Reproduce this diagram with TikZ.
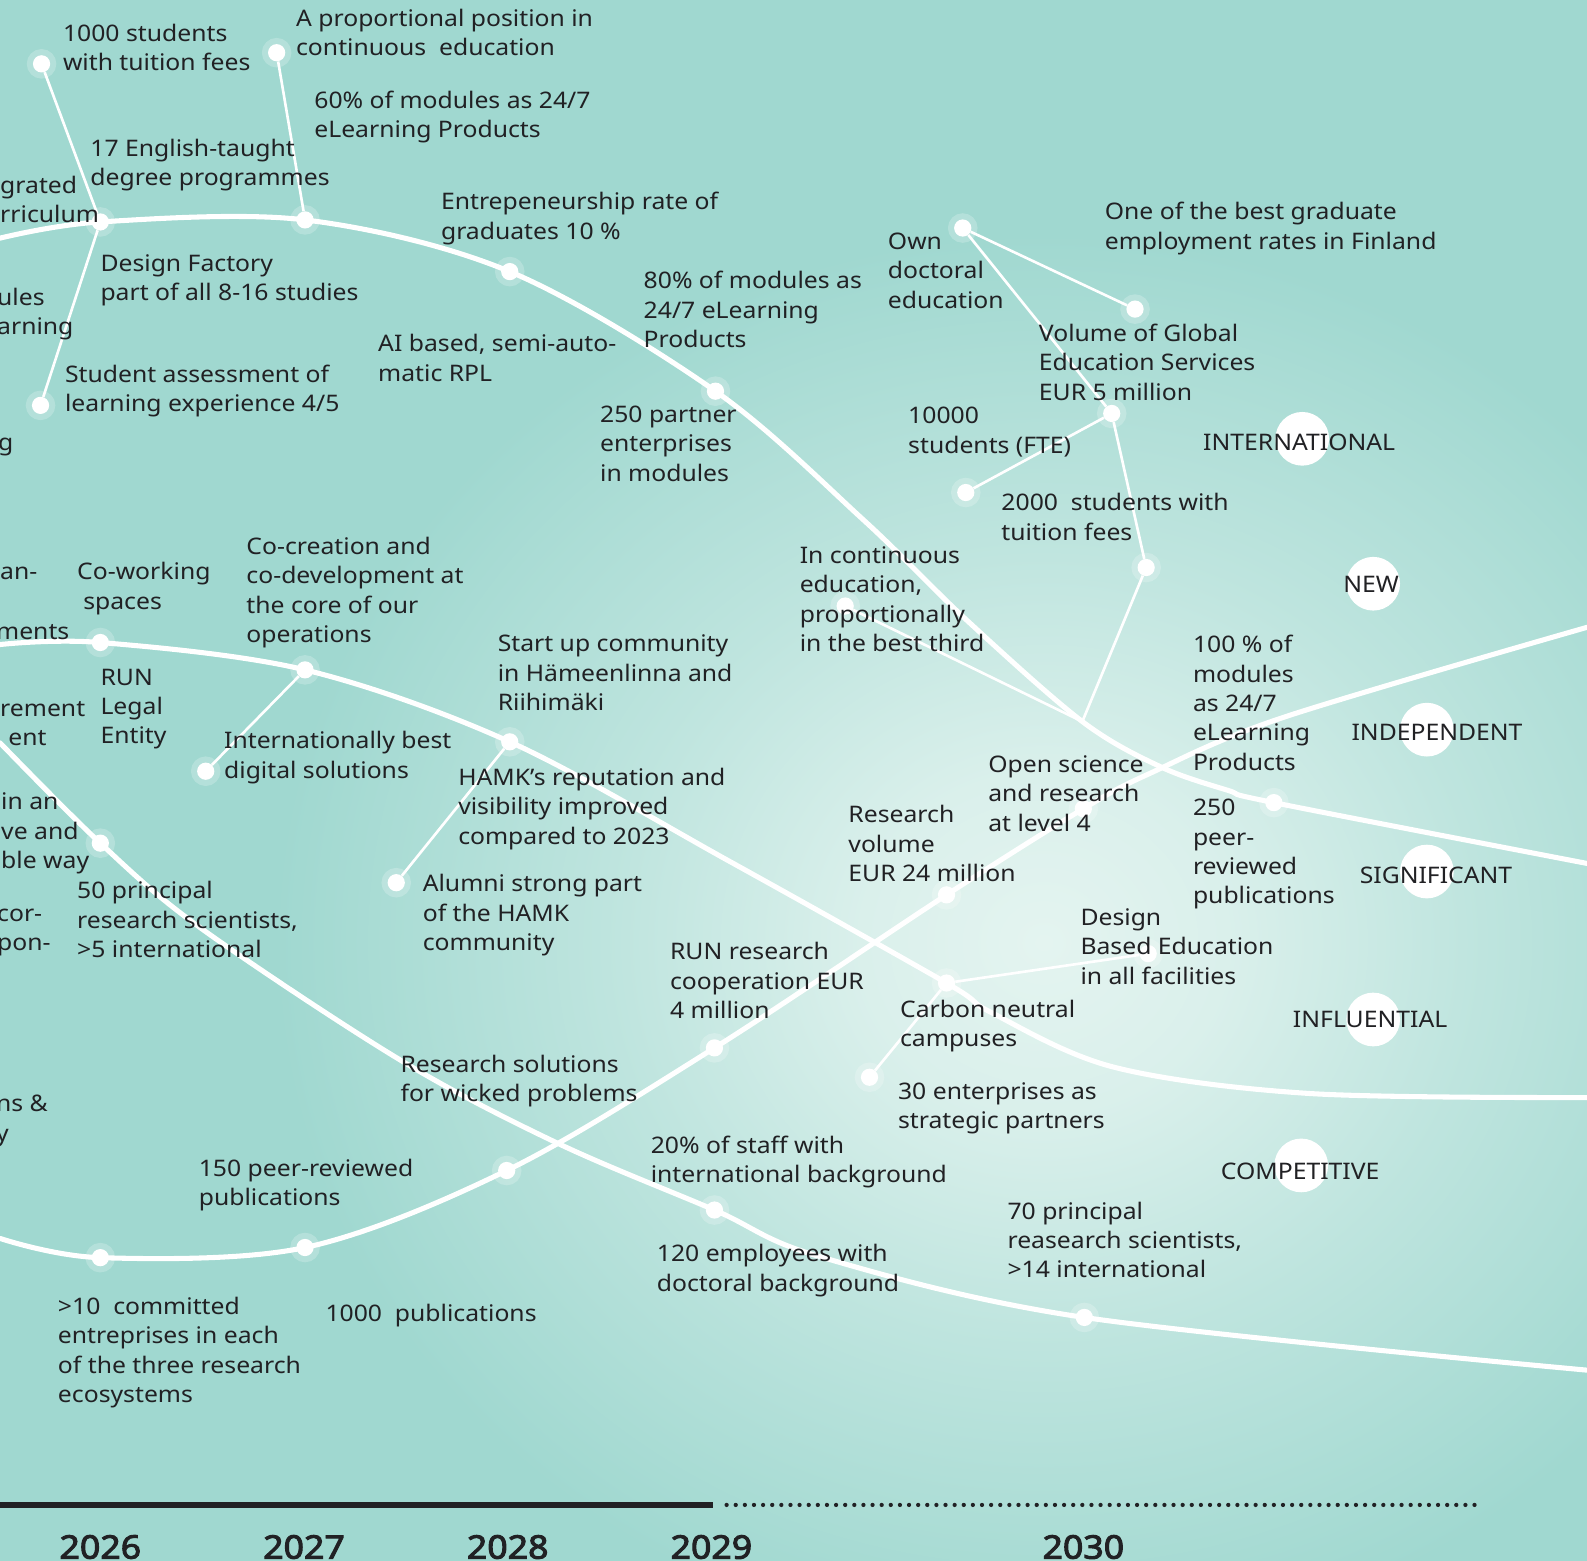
\documentclass[tikz,border=0pt]{standalone}
\usepackage{fontspec}
\setmainfont{Noto Sans}[FakeStretch=1.085]
\newfontfamily\yearfont{Noto Sans}[FakeBold=3, FakeStretch=1.1]
\definecolor{bgc}{RGB}{160,216,208}
\definecolor{glowc}{RGB}{228,244,240}
\definecolor{ink}{RGB}{33,33,36}
\pgfdeclareradialshading{glow}{\pgfpoint{0bp}{0bp}}{color(0bp)=(glowc); color(6bp)=(glowc!85!bgc); color(14bp)=(glowc!45!bgc); color(25bp)=(bgc); color(50bp)=(bgc)}
\pgfdeclarelayer{back}
\pgfdeclarelayer{lines}
\pgfsetlayers{back,lines,main}
\tikzset{
  curve/.style={draw=white, line width=5pt, line cap=round},
  link/.style={draw=white, line width=2.6pt},
  dot/.style={circle, fill=white, inner sep=0pt, minimum size=17pt, preaction={draw=white, opacity=.22, line width=12pt}},
  txt/.style={anchor=base west, align=left, inner sep=0pt, text=ink, font=\fontsize{22.5}{29}\selectfont},
  lbl/.style={circle, fill=white, minimum size=53pt, inner sep=0pt},
  lbltxt/.style={text=ink, font=\fontsize{22.5}{27}\selectfont, inner sep=0pt},
  year/.style={anchor=base, text=ink, font=\yearfont\fontsize{32}{36}\selectfont, inner sep=0pt},
}
\begin{document}
\begin{tikzpicture}[x=1pt,y=-1pt]
\useasboundingbox (0,0) rectangle (1566,1540);
\begin{pgfonlayer}{back}
\fill[bgc] (0,0) rectangle (1566,1540);
\shade[shading=glow] (1030,930) ellipse [x radius=760pt, y radius=700pt];
\end{pgfonlayer}

% free curve points
\coordinate (A0) at (0,235);
\coordinate (A5) at (852,513);
\coordinate (A5b) at (954,612);
\coordinate (J) at (1068,712);
\coordinate (A6) at (1146,757);
\coordinate (A7) at (1212,780);
\coordinate (A9) at (1566,852);
\coordinate (B0) at (0,636);
\coordinate (B4) at (720,850);
\coordinate (B5) at (978,999);
\coordinate (B6) at (1099,1053);
\coordinate (B7) at (1292,1079);
\coordinate (B9) at (1566,1083);
\coordinate (C0) at (0,733);
\coordinate (C1) at (197,915);
\coordinate (C2) at (395,1046);
\coordinate (C3) at (550,1128);
\coordinate (C4) at (809,1240);
\coordinate (C9) at (1566,1352);
\coordinate (D0) at (0,1222);
\coordinate (D1) at (1135,763);
\coordinate (D2) at (1266,708);
\coordinate (D9) at (1566,619);

% dots
\node[dot] (a1) at (99,219) {};
\node[dot] (a2) at (301,217) {};
\node[dot] (a3) at (503,268) {};
\node[dot] (a4) at (706,386) {};
\node[dot] (a5) at (1257,792) {};
\node[dot] (p1000) at (41,63) {};
\node[dot] (pprop) at (273,52) {};
\node[dot] (pstud) at (40,400) {};
\node[dot] (o1) at (950,225) {};
\node[dot] (o2) at (1120,305) {};
\node[dot] (o3) at (1097,408) {};
\node[dot] (o4) at (953,486) {};
\node[dot] (o5) at (1131,560) {};
\node[dot] (ocont) at (834,598) {};
\node[dot] (b1) at (99,634) {};
\node[dot] (b2) at (301,661) {};
\node[dot] (b3) at (503,732) {};
\node[dot] (b4) at (934,970) {};
\node[dot] (bint) at (203,761) {};
\node[dot] (balum) at (391,871) {};
\node[dot] (bdes) at (1133,941) {};
\node[dot] (bent) at (858,1063) {};
\node[dot] (c1) at (99,832) {};
\node[dot] (c2) at (705,1194) {};
\node[dot] (c3) at (1070,1300) {};
\node[dot] (d1) at (99,1241) {};
\node[dot] (d2) at (301,1231) {};
\node[dot] (d3) at (500,1155) {};
\node[dot] (d4) at (705,1034) {};
\node[dot] (d5) at (934,883) {};
\node[dot] (d6) at (1069,798) {};

\begin{pgfonlayer}{lines}
\draw[curve] plot[smooth, tension=0.55] coordinates {(A0.center) (a1.center) (a2.center) (a3.center) (a4.center) (A5.center) (A5b.center) (J.center) (A6.center) (A7.center) (a5.center) (A9.center)};
\draw[curve] plot[smooth, tension=0.55] coordinates {(B0.center) (b1.center) (b2.center) (b3.center) (B4.center) (b4.center) (B5.center) (B6.center) (B7.center) (B9.center)};
\draw[curve] plot[smooth, tension=0.55] coordinates {(C0.center) (c1.center) (C1.center) (C2.center) (C3.center) (c2.center) (C4.center) (c3.center) (C9.center)};
\draw[curve] plot[smooth, tension=0.55] coordinates {(D0.center) (d1.center) (d2.center) (d3.center) (d4.center) (d5.center) (d6.center) (D1.center) (D2.center) (D9.center)};
\draw[link] (a1) -- (p1000);
\draw[link] (a1) -- (pstud);
\draw[link] (a2) -- (pprop);
\draw[link] (o1) -- (o2);
\draw[link] (o1) -- (o3);
\draw[link] (o3) -- (o4);
\draw[link] (o3) -- (o5);
\draw[link] (o5) -- (J);
\draw[link] (ocont) -- (J);
\draw[link] (b2) -- (bint);
\draw[link] (b3) -- (balum);
\draw[link] (b4) -- (bdes);
\draw[link] (b4) -- (bent);
\end{pgfonlayer}

% category circles
\node[lbl] (Lint) at (1285,433) {};
\node[lbl] (Lnew) at (1355,576) {};
\node[lbl] (Lind) at (1408,720) {};
\node[lbl] (Lsig) at (1408,860) {};
\node[lbl] (Linf) at (1355,1006) {};
\node[lbl] (Lcom) at (1284,1150) {};
\node[lbltxt] (Tint) at (1282,436) {INTERNATIONAL};
\node[lbltxt] (Tnew) at (1353,577) {NEW};
\node[lbltxt] (Tind) at (1418,723) {INDEPENDENT};
\node[lbltxt] (Tsig) at (1417,864) {SIGNIFICANT};
\node[lbltxt] (Tinf) at (1352,1006) {INFLUENTIAL};
\node[lbltxt] (Tcom) at (1283,1156) {COMPETITIVE};

% texts (anchor = baseline of last line)
\node[txt] (t1) at (62,70) {1000 students\\with tuition fees};
\node[txt] (t2) at (292,55) {A proportional position in\\continuous\ \ education};
\node[txt] (t3) at (310,136) {60\% of modules as 24/7\\eLearning Products};
\node[txt] (t4) at (89,183) {17 English-taught\\degree programmes};
\node[txt] (t5) at (0,220) {grated\\rriculum};
\node[txt] (t6) at (99,297) {Design Factory\\part of all 8-16 studies};
\node[txt] (t7) at (-3,330) {ules\\arning};
\node[txt] (t8) at (64,406) {Student assessment of\\learning experience 4/5};
\node[txt] (t9) at (-2,445) {g};
\node[txt] (t10) at (435,236) {Entrepeneurship rate of\\graduates 10 \%};
\node[txt] (t11) at (373,376) {AI based, semi-auto-\\matic RPL};
\node[txt] (t12) at (635,343) {80\% of modules as\\24/7 eLearning\\Products};
\node[txt] (t13) at (592,475) {250 partner\\enterprises\\in modules};
\node[txt] (t14) at (876,304) {Own\\doctoral\\education};
\node[txt] (t15) at (1090,246) {One of the best graduate\\employment rates in Finland};
\node[txt] (t16) at (1025,395) {Volume of Global\\Education Services\\EUR 5 million};
\node[txt] (t17) at (896,447) {10000\\students (FTE)};
\node[txt] (t18) at (988,533) {2000\ \ students with\\tuition fees};
\node[txt] (t19) at (789,643) {In continuous\\education,\\proportionally\\in the best third};
\node[txt] (t20) at (1177,760) {100 \% of\\modules\\as 24/7\\eLearning\\Products};
\node[txt] (t21) at (1177,892) {250\\peer-\\reviewed\\publications};
\node[txt] (t22) at (0,572) {an-};
\node[txt] (t23) at (-4,631) {ments};
\node[txt] (t24) at (76,601) {Co-working\\\hspace*{6pt}spaces};
\node[txt] (t25) at (243,634) {Co-creation and\\co-development at\\the core of our\\operations};
\node[txt] (t26) at (99,734) {RUN\\Legal\\Entity};
\node[txt] (t27) at (0,707) {rement};
\node[txt] (t27b) at (8,736) {ent};
\node[txt] (t28) at (221,768) {Internationally best\\digital solutions};
\node[txt] (t29) at (491,701) {Start up community\\in Hämeenlinna and\\Riihimäki};
\node[txt] (t30) at (452,833) {HAMK’s reputation and\\visibility improved\\compared to 2023};
\node[txt] (t31) at (417,938) {Alumni strong part\\of the HAMK\\community};
\node[txt] (t32) at (1,857) {in an\\ve and\\ble way};
\node[txt] (t33) at (-3,938) {cor-\\pon-};
\node[txt] (t34) at (76,945) {50 principal\\research scientists,\\>5 international};
\node[txt] (t35) at (-4,1126) {ns \&\\y};
\node[txt] (t36) at (196,1190) {150 peer-reviewed\\publications};
\node[txt] (t37) at (57,1384) {>10\ \ committed\\entreprises in each\\of the three research\\ecosystems};
\node[txt] (t38) at (321,1304) {1000\ \ publications};
\node[txt] (t39) at (395,1087) {Research solutions\\for wicked problems};
\node[txt] (t40) at (642,1167) {20\% of staff with\\international background};
\node[txt] (t41) at (648,1274) {120 employees with\\doctoral background};
\node[txt] (t42) at (994,1261) {70 principal\\reasearch scientists,\\>14 international};
\node[txt] (t43) at (661,1005) {RUN research\\cooperation EUR\\4 million};
\node[txt] (t44) at (837,870) {Research\\volume\\EUR 24 million};
\node[txt] (t45) at (975,820) {Open science\\and research\\at level 4};
\node[txt] (t46) at (1066,971) {Design\\Based Education\\in all facilities};
\node[txt] (t47) at (888,1033) {Carbon neutral\\campuses};
\node[txt] (t48) at (886,1114) {30 enterprises as\\strategic partners};

% timeline
\coordinate (T0) at (0,1485);
\coordinate (T1) at (704,1485);
\coordinate (T2) at (717,1485);
\coordinate (T3) at (1456,1485);
\draw[draw=ink, line width=5.2pt] (T0) -- (T1);
\draw[draw=ink, line width=4.2pt, line cap=round, dash pattern=on 0pt off 9pt] (T2) -- (T3);
\node[year] (y26) at (99,1538) {2026};
\node[year] (y27) at (300,1538) {2027};
\node[year] (y28) at (501,1538) {2028};
\node[year] (y29) at (702,1538) {2029};
\node[year] (y30) at (1069,1538) {2030};
\end{tikzpicture}
\end{document}
